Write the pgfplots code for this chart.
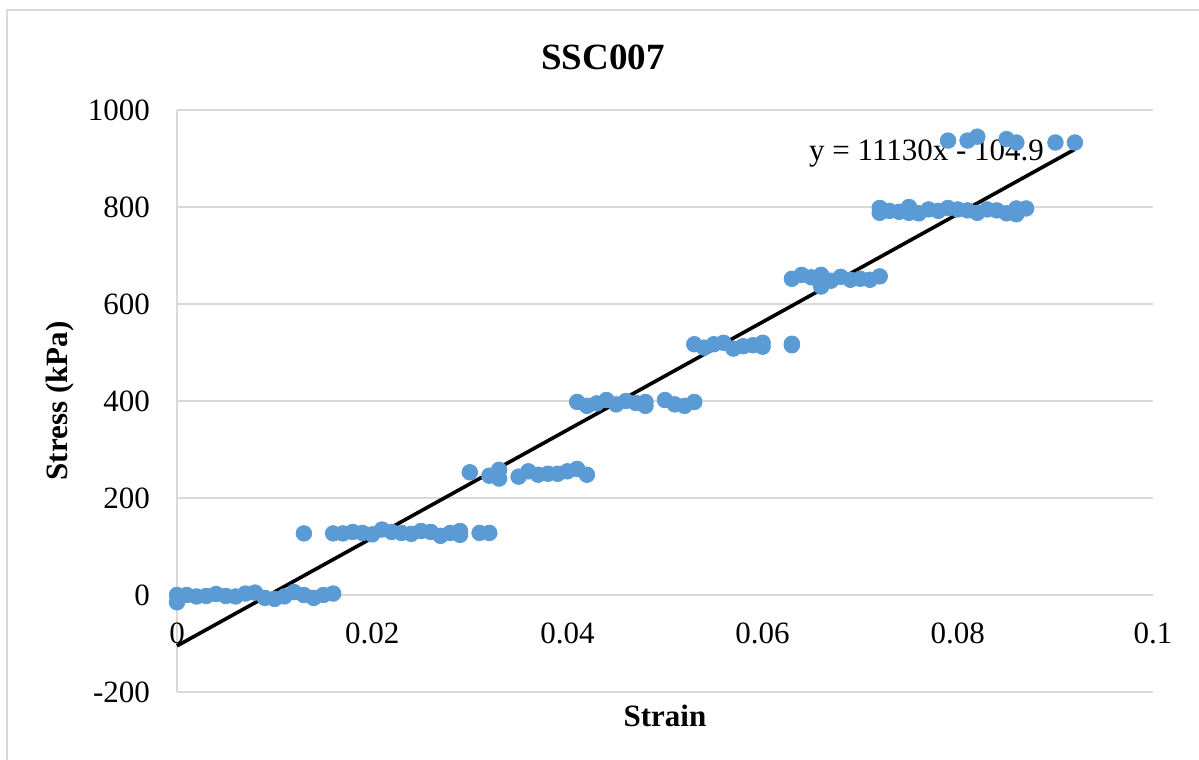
\documentclass[border=0pt]{standalone}
\usepackage{pgfplots}
\pgfplotsset{compat=1.18}
\usepackage{fontspec}
\setmainfont{Liberation Serif}
\definecolor{ptblue}{HTML}{5B9BD5}
\definecolor{gridgray}{HTML}{D9D9D9}
\newcommand{\lblfont}{\fontsize{15.5}{18}\selectfont}
\begin{document}
\begin{tikzpicture}[x=0.5pt,y=0.5pt]
\useasboundingbox (0,0) rectangle (1199,760);
% chart frame (left and top edges)
\draw[gridgray, line width=1pt] (7,0) -- (7,750) -- (1199,750);
% title
\node[font=\fontsize{18.5}{22}\selectfont\bfseries] at (603,703) {SSC007};
\begin{axis}[
  at={(88.5pt,34pt)}, anchor=south west,
  scale only axis, width=488pt, height=291pt,
  xmin=0, xmax=0.1, ymin=-200, ymax=1000,
  axis x line=middle, axis y line=left,
  axis line style={gridgray, line width=1pt, -},
  hide obscured x ticks=false, hide obscured y ticks=false,
  xtick={0,0.02,0.04,0.06,0.08,0.1},
  xticklabels={0,0.02,0.04,0.06,0.08,0.1},
  ytick={-200,0,200,400,600,800,1000},
  yticklabels={-200,0,200,400,600,800,1000},
  major tick length=0pt,
  ymajorgrids, grid style={gridgray, line width=1pt},
  ticklabel style={font=\lblfont},
  xticklabel style={anchor=north, yshift=-10.5pt},
  yticklabel style={anchor=east, xshift=-10pt},
  xlabel={\textbf{Strain}}, ylabel={\textbf{Stress (kPa)}},
  xlabel style={font=\lblfont, at={(axis description cs:0.5,-0.0412)}, anchor=center},
  ylabel style={font=\lblfont, at={(axis description cs:-0.1199,0.5)}, anchor=center},
  clip=false,
]
\addplot[only marks, mark=*, mark size=3.9pt, mark options={fill=ptblue, draw=ptblue}] table {
x y
0 0
0 -15
0.001 0
0.002 -3
0.003 -2
0.004 2
0.005 -2
0.006 -3
0.007 3
0.008 5
0.009 -6
0.010 -8
0.011 -3
0.012 6
0.013 0
0.014 -6
0.015 0
0.016 3
0.013 127
0.016 127
0.017 127
0.018 130
0.019 128
0.020 125
0.021 135
0.022 130
0.023 128
0.024 126
0.025 132
0.026 130
0.027 122
0.028 128
0.029 132
0.029 124
0.031 128
0.032 128
0.030 253
0.032 246
0.033 258
0.033 240
0.035 244
0.036 255
0.037 248
0.038 250
0.039 250
0.040 255
0.041 260
0.042 248
0.041 398
0.042 390
0.043 395
0.044 402
0.045 393
0.046 400
0.047 396
0.048 390
0.048 398
0.050 402
0.051 393
0.052 390
0.053 398
0.053 517
0.054 510
0.055 517
0.056 520
0.057 508
0.058 513
0.059 515
0.060 512
0.060 520
0.063 515
0.063 518
0.063 652
0.064 660
0.065 655
0.066 660
0.066 636
0.067 648
0.068 656
0.069 650
0.070 652
0.071 650
0.072 657
0.072 798
0.072 788
0.073 792
0.074 790
0.075 800
0.075 788
0.076 787
0.077 795
0.078 792
0.079 798
0.080 795
0.081 793
0.082 788
0.083 795
0.084 793
0.085 787
0.086 797
0.086 785
0.087 797
0.079 937
0.081 937
0.082 945
0.085 940
0.086 933
0.090 933
0.092 933
};
% linear trendline y = 11130x - 104.9
\addplot[black, line width=1.8pt, no marks] coordinates {(0,-104.9) (0.092,919.06)};
\node[font=\lblfont] at (axis cs:0.0768,911) {y = 11130x - 104.9};
\end{axis}
\end{tikzpicture}
\end{document}
